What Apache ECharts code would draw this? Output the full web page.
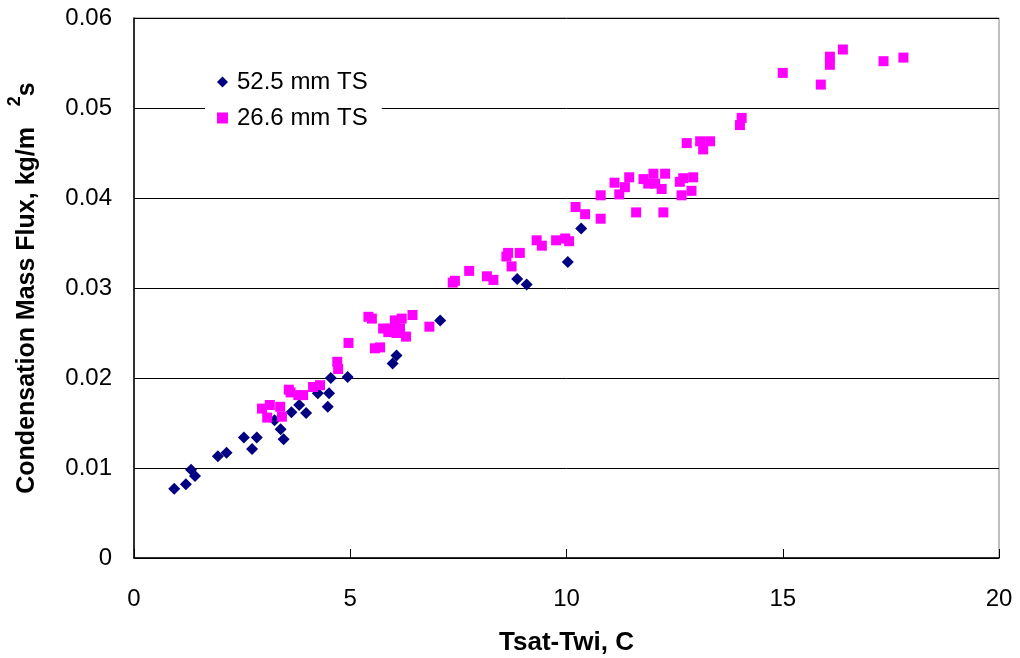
<!DOCTYPE html>
<html>
<head>
  <meta charset="utf-8">
  <title>Condensation Mass Flux</title>
  <style>
    html, body { margin: 0; padding: 0; background: #fff; }
    #chart { width: 1020px; height: 658px; }
  </style>
</head>
<body>
  <div id="chart"></div>
  <script src="https://cdn.jsdelivr.net/npm/echarts@6/dist/echarts.min.js"></script>
  <script type="text/javascript">
    // 52.5 mm TS (navy diamonds)
    var tsLargeX = [0.93, 1.20, 1.32, 1.41, 1.94, 2.14, 2.54, 2.73, 2.84, 3.25, 3.39, 3.46, 3.64, 3.82,
      3.98, 4.25, 4.51, 4.48, 4.55, 4.94, 5.98, 6.07, 7.08, 8.86, 9.08, 10.03, 10.34];
    var tsLargeY = [0.0077, 0.0082, 0.0098, 0.0091, 0.0113, 0.0117, 0.0134, 0.0121, 0.0134, 0.0153, 0.0143,
      0.0132, 0.0162, 0.0170, 0.0161, 0.0183, 0.0183, 0.0168, 0.0200, 0.0201, 0.0216, 0.0225, 0.0264,
      0.0310, 0.0304, 0.0329, 0.0366];

    // 26.6 mm TS (magenta squares)
    var tsSmallX = [2.96, 3.14, 3.38, 3.08, 3.42, 3.58, 3.62, 3.80, 3.91, 4.14, 4.30, 4.70, 4.72, 4.96,
      5.42, 5.50, 5.57, 5.69, 5.76, 5.88, 5.96, 6.03, 6.19, 6.15, 6.07, 6.29, 6.44, 6.83,
      7.37, 7.42, 7.75, 8.16, 8.31, 8.65, 8.61, 8.73, 8.92, 9.31, 9.43, 9.76, 9.97, 10.06,
      10.21, 10.43, 10.79, 10.79, 11.11, 11.22, 11.35, 11.45, 11.61, 11.78, 11.89, 12.01, 12.05,
      12.20, 12.28, 12.24, 12.62, 12.70, 12.66, 12.89, 12.93, 12.78, 13.09, 13.32, 13.16,
      14.01, 14.05, 15.00, 15.88, 16.09, 16.09, 16.39, 17.33, 17.79];
    var tsSmallY = [0.0166, 0.0170, 0.0168, 0.0156, 0.0157, 0.0187, 0.0184, 0.0181, 0.0181, 0.0190, 0.0192,
      0.0218, 0.0210, 0.0239, 0.0268, 0.0266, 0.0233, 0.0234, 0.0255, 0.0251, 0.0255, 0.0264, 0.0266,
      0.0255, 0.0250, 0.0246, 0.0270, 0.0257, 0.0306, 0.0308, 0.0319, 0.0313, 0.0309, 0.0339, 0.0335,
      0.0324, 0.0339, 0.0353, 0.0347, 0.0353, 0.0355, 0.0352, 0.0390, 0.0382, 0.0403, 0.0377, 0.0417,
      0.0404, 0.0412, 0.0423, 0.0384, 0.0421, 0.0416, 0.0427, 0.0416, 0.0410, 0.0427, 0.0384, 0.0418,
      0.0422, 0.0403, 0.0408, 0.0423, 0.0461, 0.0463, 0.0463, 0.0454, 0.0481, 0.0489, 0.0539, 0.0526,
      0.0557, 0.0548, 0.0565, 0.0552, 0.0556];

    function pairs(xs, ys) {
      return xs.map(function (x, i) { return [x, ys[i]]; });
    }

    var font = 'Arial, "Liberation Sans", sans-serif';
    var chart = echarts.init(document.getElementById('chart'));

    chart.setOption({
      animation: false,
      textStyle: { fontFamily: font },
      grid: {
        left: 134, right: 21, top: 18, bottom: 100,
        outerBoundsMode: 'none',
        containLabel: false,
        show: true, borderColor: '#808080', borderWidth: 1
      },
      legend: {
        left: 205, top: 62,
        orient: 'vertical',
        backgroundColor: '#fff',
        padding: [8, 14, 8, 12],
        itemGap: 12,
        itemWidth: 11, itemHeight: 11,
        textStyle: { fontSize: 24, color: '#000', fontFamily: font, padding: [0, 0, 0, 4] },
        data: [
          { name: '52.5 mm TS', icon: 'diamond' },
          { name: '26.6 mm TS', icon: 'rect' }
        ]
      },
      xAxis: {
        type: 'value',
        min: 0, max: 20, interval: 5,
        name: 'Tsat-Twi, C',
        nameLocation: 'middle',
        nameGap: 72,
        nameTextStyle: { fontSize: 26, fontWeight: 'bold', color: '#000' },
        axisLine: { lineStyle: { color: '#000', width: 1.5 } },
        axisTick: { inside: true, length: 9, lineStyle: { color: '#000' } },
        axisLabel: { fontSize: 24, color: '#000', margin: 29 },
        splitLine: { show: false }
      },
      yAxis: {
        type: 'value',
        min: 0, max: 0.06, interval: 0.01,
        name: '{b|Condensation Mass Flux, kg/m   }{sup|2}{b|s}',
        nameLocation: 'middle',
        nameGap: 86,
        nameTextStyle: {
          color: '#000',
          rich: {
            b: { fontSize: 25, fontWeight: 'bold', color: '#000', lineHeight: 42, fontFamily: font },
            sup: { fontSize: 18, fontWeight: 'bold', color: '#000', verticalAlign: 'top', fontFamily: font }
          }
        },
        axisLine: { lineStyle: { color: '#000', width: 1.5 } },
        axisTick: { show: false },
        axisLabel: {
          fontSize: 24, color: '#000', margin: 22,
          formatter: function (v) { return v === 0 ? '0' : v.toFixed(2); }
        },
        splitLine: { lineStyle: { color: '#000', width: 1 } }
      },
      series: [
        {
          name: '52.5 mm TS',
          type: 'scatter',
          symbol: 'diamond',
          symbolSize: 12,
          itemStyle: { color: '#000080', opacity: 1 },
          data: pairs(tsLargeX, tsLargeY)
        },
        {
          name: '26.6 mm TS',
          type: 'scatter',
          symbol: 'rect',
          symbolSize: 10,
          itemStyle: { color: '#FF00FF', opacity: 1 },
          data: pairs(tsSmallX, tsSmallY)
        }
      ]
    });
    window.addEventListener('resize', chart.resize);
  </script>
</body>
</html>
